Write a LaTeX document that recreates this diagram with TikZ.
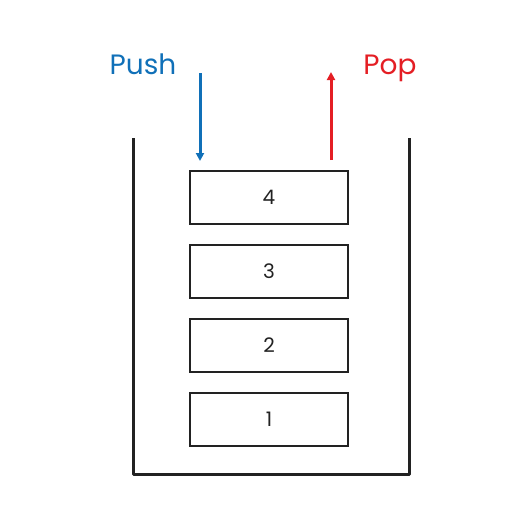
\documentclass[tikz,border=0pt]{standalone}
\usepackage{fontspec}
\setmainfont{Poppins}
\usetikzlibrary{arrows.meta}
\definecolor{pushblue}{RGB}{16,112,184}
\definecolor{popred}{RGB}{228,30,36}
\definecolor{ink}{RGB}{34,34,34}
\begin{document}
\begin{tikzpicture}[x=1pt,y=-1pt,
  item/.style={draw=ink,line width=2pt,minimum width=158pt,minimum height=53pt,inner sep=0pt,font=\fontsize{20}{20}\selectfont,text=ink},
  lbl/.style={font=\fontsize{28}{28}\selectfont,anchor=base,inner sep=0pt},
  arr/.style={line width=3pt,-{Triangle[length=8pt,width=8pt]}}]
\useasboundingbox (0,0) rectangle (512,512);
\draw[ink,line width=3pt,line join=round] (133,138) -- (133,474) -- (409,474) -- (409,138);
\node[item] (n4) at (269,197.5) {4};
\node[item] (n3) at (269,271.5) {3};
\node[item] (n2) at (269,345) {2};
\node[item] (n1) at (269,419.5) {1};
\node[lbl,text=pushblue] (push) at (143,74) {Push};
\node[lbl,text=popred] (pop) at (390,74) {Pop};
\coordinate (pushA) at (200,73);
\coordinate (pushB) at (200,161);
\coordinate (popA) at (331,160);
\coordinate (popB) at (331,72);
\draw[arr,pushblue] (pushA) -- (pushB);
\draw[arr,popred] (popA) -- (popB);
\end{tikzpicture}
\end{document}
